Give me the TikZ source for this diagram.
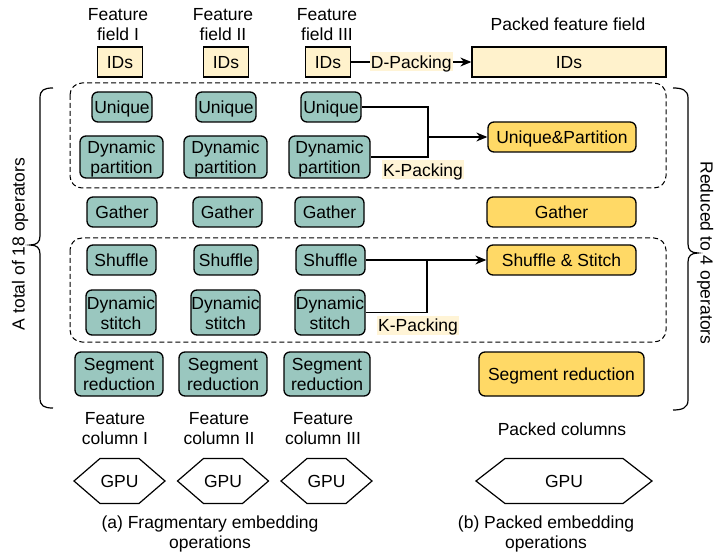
\documentclass[tikz,border=0pt]{standalone}
\usepackage{fontspec}
\setmainfont{Liberation Sans}
\usetikzlibrary{arrows.meta}
\definecolor{tealop}{HTML}{9AC7BF}
\definecolor{orng}{HTML}{FFD966}
\definecolor{lyel}{HTML}{FFF2CC}
\definecolor{lbg}{HTML}{FFF4D6}
\tikzset{
  tx/.style={text height=16pt, text depth=3pt},
  two/.style={text height=36pt, text depth=3pt},
  op/.style={tx, draw=black, fill=tealop, rounded corners=6pt, line width=1.3pt, align=center, inner sep=0pt},
  pk/.style={tx, draw=black, fill=orng, rounded corners=6pt, line width=1.3pt, align=center, inner sep=0pt},
  idbox/.style={tx, draw=black, fill=lyel, line width=1.3pt, inner sep=0pt, minimum height=30pt},
  lbl/.style={tx, fill=lbg, inner xsep=1pt, inner ysep=0pt},
  grp/.style={draw=black, line width=1pt, rounded corners=12pt, dash pattern=on 5pt off 3pt},
  txt/.style={tx, align=center, inner sep=0pt},
  conn/.style={draw=black, line width=1.2pt},
  arr/.style={draw=black, line width=1.2pt, -{Stealth[length=11pt,width=9pt]}},
  hexa/.style={draw=black, line width=1.2pt},
}
\begin{document}
\begin{tikzpicture}[x=1pt,y=-1pt, font=\fontsize{17.5}{20}\selectfont]
\useasboundingbox (0,0) rectangle (728,553);

% headers
\node[txt, two] (ff1) at (118,24.5) {Feature\\field I};
\node[txt, two] (ff2) at (223,24.5) {Feature\\field II};
\node[txt, two] (ff3) at (327,24.5) {Feature\\field III};
\node[txt] (pff) at (568,24.5) {Packed feature field};

% IDs
\node[idbox, minimum width=45pt] (ids1) at (120,62) {IDs};
\node[idbox, minimum width=45pt] (ids2) at (226,62) {IDs};
\node[idbox, minimum width=45pt] (ids3) at (328,62) {IDs};
\node[idbox, minimum width=194pt] (pids) at (569,62) {IDs};
\draw[arr] (ids3.east) -- node[lbl] (dpk) {D-Packing} (pids.west);

% dashed groups
\draw[grp] (70,83) rectangle (666,188);
\draw[grp] (70,238) rectangle (666,342);

% Unique
\node[op, minimum width=60pt, minimum height=30pt] (u1) at (122,107) {Unique};
\node[op, minimum width=60pt, minimum height=30pt] (u2) at (226,107) {Unique};
\node[op, minimum width=60pt, minimum height=30pt] (u3) at (331,107) {Unique};
% Dynamic partition
\node[op, two, minimum width=83pt, minimum height=42pt] (dp1) at (121.5,157) {Dynamic\\partition};
\node[op, two, minimum width=83pt, minimum height=42pt] (dp2) at (225.5,157) {Dynamic\\partition};
\node[op, two, minimum width=81pt, minimum height=42pt] (dp3) at (329.5,157) {Dynamic\\partition};
\node[pk, minimum width=148pt, minimum height=30pt] (up) at (562,137) {Unique\&Partition};
\coordinate (j1) at (428,137);
\draw[conn] (u3.east) -| (j1) |- (dp3.east);
\draw[arr] (j1) -- (up.west);
\node[lbl] (kp1) at (423,170) {K-Packing};

% Gather
\node[op, minimum width=70pt, minimum height=30pt] (g1) at (122,212) {Gather};
\node[op, minimum width=69pt, minimum height=30pt] (g2) at (227.5,212) {Gather};
\node[op, minimum width=69pt, minimum height=30pt] (g3) at (329.5,212) {Gather};
\node[pk, minimum width=149pt, minimum height=30pt] (pg) at (561.5,212) {Gather};

% Shuffle
\node[op, minimum width=69pt, minimum height=30pt] (s1) at (121.5,260) {Shuffle};
\node[op, minimum width=64pt, minimum height=30pt] (s2) at (226,260) {Shuffle};
\node[op, minimum width=69pt, minimum height=30pt] (s3) at (330.5,260) {Shuffle};
\node[pk, minimum width=149pt, minimum height=30pt] (ss) at (561.5,260) {Shuffle \& Stitch};
% Dynamic stitch
\node[op, two, minimum width=70pt, minimum height=45pt] (ds1) at (121,312.5) {Dynamic\\stitch};
\node[op, two, minimum width=69pt, minimum height=45pt] (ds2) at (225.5,312.5) {Dynamic\\stitch};
\node[op, two, minimum width=70pt, minimum height=45pt] (ds3) at (330,312.5) {Dynamic\\stitch};
\coordinate (j2) at (427,260);
\draw[arr] (s3.east) -- (ss.west);
\draw[conn] (j2) |- (ds3.east);
\node[lbl] (kp2) at (418,325) {K-Packing};

% Segment reduction
\node[op, two, minimum width=88pt, minimum height=44pt] (sr1) at (119,374) {Segment\\reduction};
\node[op, two, minimum width=88pt, minimum height=44pt] (sr2) at (223,374) {Segment\\reduction};
\node[op, two, minimum width=86pt, minimum height=44pt] (sr3) at (327,374) {Segment\\reduction};
\node[pk, minimum width=165pt, minimum height=44pt] (psr) at (561.5,374) {Segment reduction};

% columns
\node[txt, two] (fc1) at (115,428) {Feature\\column I};
\node[txt, two] (fc2) at (219,428) {Feature\\column II};
\node[txt, two] (fc3) at (323,428) {Feature\\column III};
\node[txt] (pc) at (562,429) {Packed columns};

% GPU hexagons
\node[txt] (gpu1) at (119.5,481) {GPU};
\node[txt] (gpu2) at (223,481) {GPU};
\node[txt] (gpu3) at (326.5,481) {GPU};
\node[txt] (gpu4) at (564,481) {GPU};
\draw[hexa] (74,481) -- (100,458.5) -- (139,458.5) -- (165,481) -- (139,503.5) -- (100,503.5) -- cycle;
\draw[hexa] (177.5,481) -- (203.5,458.5) -- (242.5,458.5) -- (268.5,481) -- (242.5,503.5) -- (203.5,503.5) -- cycle;
\draw[hexa] (281,481) -- (307,458.5) -- (346,458.5) -- (372,481) -- (346,503.5) -- (307,503.5) -- cycle;
\draw[hexa] (476,481) -- (505,458.5) -- (623,458.5) -- (652,481) -- (623,503.5) -- (505,503.5) -- cycle;

% captions
\node[txt, two] (capa) at (210,532) {(a) Fragmentary embedding\\operations};
\node[txt, two] (capb) at (546,532) {(b) Packed embedding\\operations};

% braces
\draw[conn] (53,88) .. controls (44,88) and (40,90) .. (40,98) -- (40,236)
  .. controls (40,242) and (37,245) .. (30,245)
  .. controls (37,245) and (40,248) .. (40,254) -- (40,398)
  .. controls (40,406) and (44,408) .. (53,408);
\node[txt, rotate=90] (lt) at (18,244) {A total of 18 operators};
\draw[conn] (673,88) .. controls (682,88) and (688,90) .. (688,98) -- (688,244)
  .. controls (688,250) and (691,253) .. (698,253)
  .. controls (691,253) and (688,256) .. (688,262) -- (688,400)
  .. controls (688,408) and (682,410) .. (673,410);
\node[txt, rotate=-90] (rt) at (707,253) {Reduced to 4 operators};
\end{tikzpicture}
\end{document}
